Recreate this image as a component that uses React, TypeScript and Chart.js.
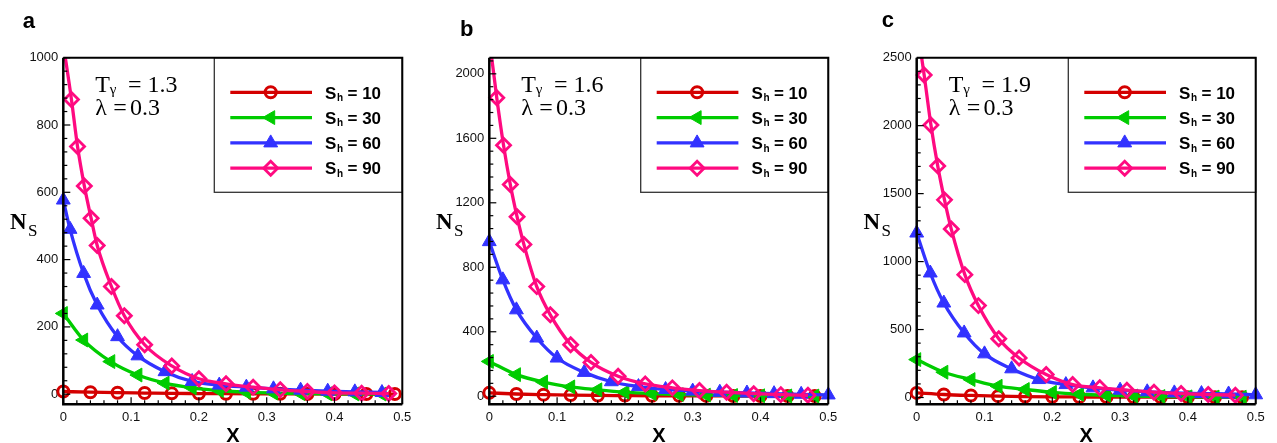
import React, { useEffect, useRef } from 'react';
import { Chart, registerables } from 'chart.js';
import { drawPoint } from 'chart.js/helpers';

Chart.register(...registerables);

// ---- data -------------------------------------------------------------
// Entropy generation N_S along X for four values of S_h, three T_γ cases.

const SH_VALUES = ['10', '30', '60', '90'];
const T_GAMMA = ['1.3', '1.6', '1.9'];
const LAMBDA = '0.3';
const X_TICKS = [0, 0.1, 0.2, 0.3, 0.4, 0.5];
const Y_TICKS_A = [0, 200, 400, 600, 800, 1000];
const Y_TICKS_B = [0, 400, 800, 1200, 1600, 2000];
const Y_TICKS_C = [0, 500, 1000, 1500, 2000, 2500];

// (a) T_γ = 1.3
const A_X10 = [0, 0.04, 0.08, 0.12, 0.16, 0.2, 0.24, 0.28, 0.32, 0.36, 0.4, 0.447, 0.489];
const A_Y10 = [8, 6, 4.5, 3.5, 2.5, 2, 1.5, 1.2, 1, 0.8, 0.6, 0.5, 0.4];
const A_X30 = [0, 0.03, 0.07, 0.11, 0.15, 0.19, 0.23, 0.27, 0.31, 0.35, 0.39, 0.43, 0.47];
const A_Y30 = [240, 161, 97, 57, 33, 19, 11, 6, 3.5, 2, 1.2, 0.7, 0.4];
const A_X60 = [0, 0.01, 0.03, 0.05, 0.08, 0.11, 0.15, 0.19, 0.23, 0.27, 0.31, 0.35, 0.39, 0.43, 0.47];
const A_Y60 = [577, 490, 359, 265, 171, 114, 67, 38, 27, 21, 16, 12, 9, 7, 5];
const A_X90 = [0, 0.012, 0.021, 0.031, 0.041, 0.05, 0.071, 0.09, 0.12, 0.16, 0.2, 0.24, 0.28, 0.32, 0.36, 0.4, 0.44, 0.48];
const A_Y90 = [1040, 876, 736, 619, 523, 442, 320, 233, 147, 84, 46, 31, 21, 13, 8, 4, 3, 2];

// (b) T_γ = 1.6
const B_X10 = [0, 0.04, 0.08, 0.12, 0.16, 0.2, 0.24, 0.28, 0.32, 0.36, 0.4, 0.44, 0.48];
const B_Y10 = [21, 14, 10, 7, 5, 4, 3, 2.5, 2, 1.5, 1.2, 1, 0.8];
const B_X30 = [0, 0.04, 0.08, 0.12, 0.16, 0.2, 0.24, 0.28, 0.32, 0.36, 0.4, 0.44, 0.48];
const B_Y30 = [216, 134, 88, 58, 40, 25, 16, 10, 7, 4.5, 3, 2, 1.3];
const B_X60 = [0, 0.02, 0.04, 0.07, 0.1, 0.14, 0.18, 0.22, 0.26, 0.3, 0.34, 0.38, 0.42, 0.46, 0.5];
const B_Y60 = [959, 722, 536, 361, 237, 148, 90, 60, 42, 32, 25, 20, 16, 12, 8];
const B_X90 = [0, 0.011, 0.021, 0.031, 0.041, 0.051, 0.07, 0.09, 0.12, 0.15, 0.19, 0.23, 0.27, 0.31, 0.35, 0.39, 0.43, 0.47];
const B_Y90 = [2220, 1852, 1557, 1313, 1113, 942, 680, 505, 320, 210, 124, 76, 52, 35, 25, 16, 10, 6];

// (c) T_γ = 1.9
const C_X10 = [0, 0.04, 0.08, 0.12, 0.16, 0.2, 0.24, 0.28, 0.32, 0.36, 0.4, 0.44, 0.48];
const C_Y10 = [34, 22, 15, 10, 7, 5, 4, 3, 2.4, 2, 1.6, 1.3, 1];
const C_X30 = [0, 0.04, 0.08, 0.12, 0.16, 0.2, 0.24, 0.28, 0.32, 0.36, 0.4, 0.44, 0.48];
const C_Y30 = [279, 186, 132, 83, 59, 38, 24, 16, 11, 7.5, 5, 3.5, 2.5];
const C_X60 = [0, 0.02, 0.04, 0.07, 0.1, 0.14, 0.18, 0.22, 0.26, 0.3, 0.34, 0.38, 0.42, 0.46, 0.5];
const C_Y60 = [1210, 916, 695, 475, 321, 211, 132, 95, 71, 54, 42, 34, 29, 26, 20];
const C_X90 = [0, 0.011, 0.021, 0.031, 0.041, 0.051, 0.071, 0.091, 0.121, 0.151, 0.191, 0.23, 0.27, 0.31, 0.35, 0.39, 0.43, 0.47];
const C_Y90 = [2750, 2373, 2005, 1704, 1454, 1239, 904, 676, 433, 291, 169, 95, 71, 54, 39, 29, 22, 17];

// ---- styling ----------------------------------------------------------

const FONT_SANS = '"Liberation Sans", Arial, Helvetica, sans-serif';
const FONT_SERIF = '"Liberation Serif", "Times New Roman", Times, serif';

type MarkStyle = {
  color: string;
  pointStyle: 'circle' | 'triangle' | 'rectRot';
  rotation: number;
  radius: number;
  border: number;
  fill: string;
};

const SERIES_STYLE: MarkStyle[] = [
  { color: '#d40000', pointStyle: 'circle', rotation: 0, radius: 5.5, border: 3, fill: 'rgba(0,0,0,0)' },
  { color: '#00cc00', pointStyle: 'triangle', rotation: -90, radius: 8, border: 1, fill: '#00cc00' },
  { color: '#3232ff', pointStyle: 'triangle', rotation: 0, radius: 8, border: 1, fill: '#3232ff' },
  { color: '#ff0a80', pointStyle: 'rectRot', rotation: 0, radius: 7, border: 2.8, fill: 'rgba(0,0,0,0)' },
];
const LINE_WIDTH = 3.3;

const PAGE_H = 443;
const PLOT_TOP = 57.7;
const PLOT_BOTTOM = 404.3;
const LEGEND_BOTTOM = 192.3;

type Panel = {
  letter: string;
  letterX: number;
  letterBase: number;
  canvasLeft: number;
  canvasWidth: number;
  plotLeft: number;
  plotRight: number;
  legendLeft: number;
  yMin: number;
  yMax: number;
  yTicks: number[];
  yMinor: number;
  tGamma: string;
  xs: number[][];
  ys: number[][];
};

const PANELS: Panel[] = [
  {
    letter: 'a', letterX: 22.7, letterBase: 28.3,
    canvasLeft: 0, canvasWidth: 425, plotLeft: 63.3, plotRight: 402.3, legendLeft: 214.3,
    yMin: -30, yMax: 1000, yTicks: Y_TICKS_A, yMinor: 40, tGamma: T_GAMMA[0],
    xs: [A_X10, A_X30, A_X60, A_X90], ys: [A_Y10, A_Y30, A_Y60, A_Y90],
  },
  {
    letter: 'b', letterX: 460, letterBase: 36,
    canvasLeft: 425, canvasWidth: 425, plotLeft: 489.3, plotRight: 828.3, legendLeft: 640.7,
    yMin: -50, yMax: 2100, yTicks: Y_TICKS_B, yMinor: 80, tGamma: T_GAMMA[1],
    xs: [B_X10, B_X30, B_X60, B_X90], ys: [B_Y10, B_Y30, B_Y60, B_Y90],
  },
  {
    letter: 'c', letterX: 881.7, letterBase: 26.7,
    canvasLeft: 850, canvasWidth: 427, plotLeft: 916.7, plotRight: 1255.7, legendLeft: 1068.3,
    yMin: -50, yMax: 2500, yTicks: Y_TICKS_C, yMinor: 100, tGamma: T_GAMMA[2],
    xs: [C_X10, C_X30, C_X60, C_X90], ys: [C_Y10, C_Y30, C_Y60, C_Y90],
  },
];

// Frame, inward ticks, legend and the text annotations of one panel.
function decorPlugin(p: Panel) {
  return {
    id: 'panelDecor',
    afterDatasetsDraw(chart: Chart) {
      const ctx = chart.ctx;
      const a = chart.chartArea;
      const xs = chart.scales.x;
      const ys = chart.scales.y;
      const off = p.canvasLeft;
      ctx.save();

      // legend box
      const lL = p.legendLeft - off;
      ctx.fillStyle = '#fff';
      ctx.fillRect(lL, a.top, a.right - lL, LEGEND_BOTTOM - a.top);
      ctx.strokeStyle = '#333';
      ctx.lineWidth = 1.3;
      ctx.strokeRect(lL, a.top, a.right - lL, LEGEND_BOTTOM - a.top);

      SERIES_STYLE.forEach((s, i) => {
        const ry = a.top + 34.6 + i * 25.3;
        ctx.strokeStyle = s.color;
        ctx.lineWidth = LINE_WIDTH;
        ctx.beginPath();
        ctx.moveTo(lL + 16, ry);
        ctx.lineTo(lL + 97.7, ry);
        ctx.stroke();
        ctx.fillStyle = s.fill;
        ctx.lineWidth = s.border;
        drawPoint(ctx, { pointStyle: s.pointStyle, rotation: s.rotation, radius: s.radius, borderWidth: s.border } as any, lL + 56.4, ry);

        ctx.fillStyle = '#000';
        ctx.textAlign = 'left';
        ctx.textBaseline = 'alphabetic';
        const tx = lL + 110.7;
        ctx.font = `bold 17px ${FONT_SANS}`;
        ctx.fillText('S', tx, ry + 6.2);
        ctx.font = `bold 10px ${FONT_SANS}`;
        ctx.fillText('h', tx + 12, ry + 8.7);
        ctx.font = `bold 17px ${FONT_SANS}`;
        ctx.fillText('= ' + SH_VALUES[i], tx + 22.5, ry + 6.2);
      });

      // plot frame: thick left/bottom axes, lighter top/right border
      ctx.strokeStyle = '#000';
      ctx.lineWidth = 2;
      ctx.beginPath();
      ctx.moveTo(a.left, a.top);
      ctx.lineTo(a.right, a.top);
      ctx.lineTo(a.right, a.bottom);
      ctx.stroke();
      ctx.lineWidth = 2.5;
      ctx.beginPath();
      ctx.moveTo(a.left, a.top);
      ctx.lineTo(a.left, a.bottom);
      ctx.lineTo(a.right, a.bottom);
      ctx.stroke();

      // inward tick marks (majors at the labelled values, minors between)
      ctx.lineWidth = 1.2;
      const yMajors = p.yTicks;
      for (let i = 0; i * p.yMinor <= p.yMax + 1e-9; i++) {
        const v = i * p.yMinor;
        const py = ys.getPixelForValue(v);
        const len = yMajors.includes(v) ? 7 : 4;
        ctx.beginPath();
        ctx.moveTo(a.left, py);
        ctx.lineTo(a.left + len, py);
        ctx.stroke();
      }
      const xMinor = 0.02;
      const perMajorX = 5;
      const xMax = X_TICKS[X_TICKS.length - 1];
      for (let i = 0; i * xMinor <= xMax + 1e-9; i++) {
        const px = xs.getPixelForValue(i * xMinor);
        const len = i % perMajorX === 0 ? 7 : 4;
        ctx.beginPath();
        ctx.moveTo(px, a.bottom);
        ctx.lineTo(px, a.bottom - len);
        ctx.stroke();
      }

      // annotation: T_γ and λ
      ctx.fillStyle = '#000';
      ctx.textAlign = 'left';
      ctx.textBaseline = 'alphabetic';
      const ax = a.left + 32;
      ctx.font = `24px ${FONT_SERIF}`;
      ctx.fillText('T', ax, 91.5);
      ctx.fillText('= ' + p.tGamma, ax + 32.7, 91.5);
      ctx.fillText('λ', ax, 115);
      ctx.fillText('=', ax + 18, 115);
      ctx.fillText(LAMBDA, ax + 34.7, 115);
      ctx.font = `15px ${FONT_SERIF}`;
      ctx.fillText('γ', ax + 14.5, 93.5);

      // axis titles
      ctx.font = `bold 23px ${FONT_SERIF}`;
      const nx = a.left - 53.3;
      ctx.fillText('N', nx, 228.5);
      ctx.font = `17px ${FONT_SERIF}`;
      ctx.fillText('S', nx + 18, 236);

      ctx.font = `bold 20px ${FONT_SANS}`;
      ctx.textAlign = 'center';
      ctx.fillText('X', (a.left + a.right) / 2, 441.5);

      // panel letter
      ctx.textAlign = 'left';
      ctx.font = `bold 22px ${FONT_SANS}`;
      ctx.fillText(p.letter, p.letterX - off, p.letterBase);

      ctx.restore();
    },
  };
}

function buildConfig(p: Panel): any {
  // pink drawn last (on top), red first
  const datasets = SERIES_STYLE.map((s, i) => ({
    label: 'S_h = ' + SH_VALUES[i],
    data: p.xs[i].map((x, k) => ({ x, y: p.ys[i][k] })),
    borderColor: s.color,
    borderWidth: LINE_WIDTH,
    backgroundColor: s.fill,
    pointStyle: s.pointStyle,
    pointRotation: s.rotation,
    pointRadius: s.radius,
    pointBorderWidth: s.border,
    pointBackgroundColor: s.fill,
    pointBorderColor: s.color,
    pointHoverRadius: s.radius,
    cubicInterpolationMode: 'monotone',
    clip: { left: 12, right: 12, top: 0, bottom: 12 },
    order: SERIES_STYLE.length - 1 - i,
  }));

  const tickFont = { family: FONT_SANS, size: 13 };
  return {
    type: 'line',
    data: { datasets },
    options: {
      animation: false,
      responsive: false,
      devicePixelRatio: 1,
      events: [],
      layout: {
        padding: {
          left: 0,
          top: PLOT_TOP,
          right: p.canvasLeft + p.canvasWidth - p.plotRight,
          bottom: 0,
        },
      },
      plugins: { legend: { display: false }, tooltip: { enabled: false } },
      scales: {
        x: {
          type: 'linear',
          min: X_TICKS[0],
          max: X_TICKS[X_TICKS.length - 1],
          grid: { display: false, drawTicks: false },
          border: { display: false },
          afterBuildTicks: (scale: any) => {
            scale.ticks = X_TICKS.map((v) => ({ value: v }));
          },
          ticks: {
            color: '#111',
            font: tickFont,
            padding: 5,
            maxRotation: 0,
            autoSkip: false,
            callback: (v: number) => String(Number(v.toFixed(2))),
          },
          afterFit: (scale: any) => {
            scale.height = PAGE_H - PLOT_BOTTOM;
          },
        },
        y: {
          type: 'linear',
          min: p.yMin,
          max: p.yMax,
          grid: { display: false, drawTicks: false },
          border: { display: false },
          afterBuildTicks: (scale: any) => {
            scale.ticks = p.yTicks.map((v) => ({ value: v }));
          },
          ticks: {
            color: '#111',
            font: tickFont,
            padding: 5,
            autoSkip: false,
            callback: (v: number) => String(v),
          },
          afterFit: (scale: any) => {
            scale.width = p.plotLeft - p.canvasLeft;
          },
        },
      },
    },
    plugins: [decorPlugin(p)],
  };
}

function PanelChart({ panel }: { panel: Panel }) {
  const ref = useRef<HTMLCanvasElement>(null);
  useEffect(() => {
    if (!ref.current) return;
    const chart = new Chart(ref.current, buildConfig(panel));
    return () => chart.destroy();
  }, [panel]);
  return (
    <canvas
      ref={ref}
      width={panel.canvasWidth}
      height={PAGE_H}
      style={{
        position: 'absolute',
        left: panel.canvasLeft,
        top: 0,
        width: panel.canvasWidth,
        height: PAGE_H,
      }}
    />
  );
}

export default function App() {
  return (
    <div
      style={{
        position: 'absolute',
        left: 0,
        top: 0,
        width: 1277,
        height: PAGE_H,
        background: '#fff',
        overflow: 'hidden',
      }}
    >
      {PANELS.map((p) => (
        <PanelChart key={p.letter} panel={p} />
      ))}
    </div>
  );
}
